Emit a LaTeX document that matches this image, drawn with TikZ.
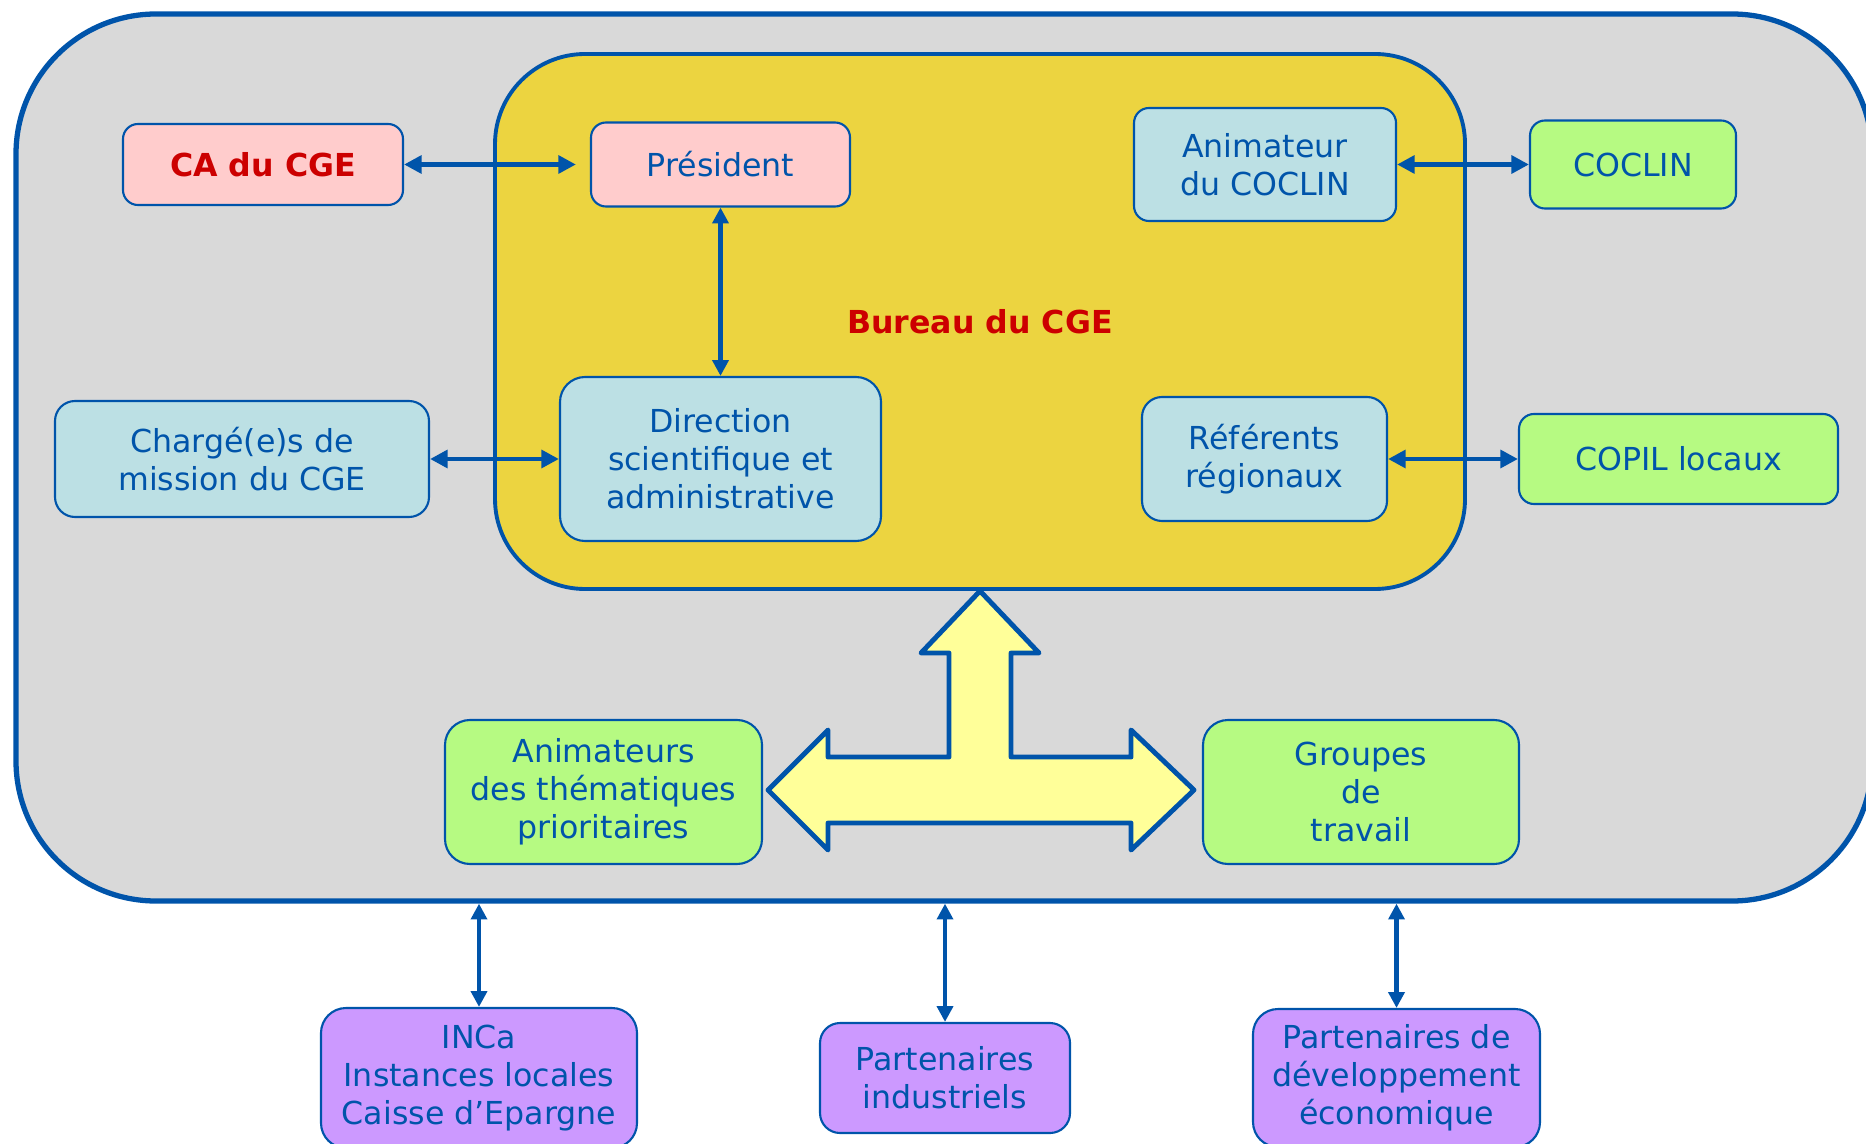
\documentclass[tikz,border=0pt]{standalone}
\usepackage{fontspec}
\setmainfont{DejaVu Sans}
\usetikzlibrary{arrows.meta}

\definecolor{cgeblue}{RGB}{0,84,170}
\definecolor{cgered}{RGB}{204,0,0}
\definecolor{cgegris}{RGB}{217,217,217}
\definecolor{cgejaune}{RGB}{236,212,64}
\definecolor{cgerose}{RGB}{255,204,204}
\definecolor{cgeciel}{RGB}{188,224,228}
\definecolor{cgevert}{RGB}{182,250,130}
\definecolor{cgemauve}{RGB}{204,153,255}
\definecolor{cgefleche}{RGB}{255,255,153}

\begin{document}
\begin{tikzpicture}
    % -----------------------------
    % Parameters (1 unit = 100 px of the page)
    % -----------------------------
    \def\lw{0.6pt}          % border of the small boxes
    \def\rowA{-1.645}       % first row (CA, Président, COCLIN)
    \def\rowB{-4.59}        % second row (Chargé(e)s, Direction, COPIL)
    \def\rowC{-7.92}        % third row (animateurs, groupes)
    \def\rowD{-10.78}       % partners below the frame
    \newcommand{\boxfont}{\fontsize{9pt}{10.8pt}\selectfont}

    % -----------------------------
    % Styles
    % -----------------------------
    \tikzset{
      boite/.style={draw=cgeblue, line width=\lw, rounded corners=0.15cm,
                    text=cgeblue, font=\boxfont, align=center, inner sep=0pt},
      rose/.style={boite, fill=cgerose},
      ciel/.style={boite, fill=cgeciel},
      vert/.style={boite, fill=cgevert, rounded corners=0.25cm},
      mauve/.style={boite, fill=cgemauve, rounded corners=0.25cm},
      lien/.style={draw=cgeblue, line width=1.4pt,
                   {Triangle[length=5pt,width=5pt]}-{Triangle[length=5pt,width=5pt]}},
      lienv/.style={draw=cgeblue, line width=1.2pt,
                    {Triangle[length=4.5pt,width=4.5pt]}-{Triangle[length=4.5pt,width=4.5pt]}},
    }

    \clip (0,0) rectangle (18.66,-11.44);

    % -----------------------------
    % Frame and bureau
    % -----------------------------
    \node[draw=cgeblue, fill=cgegris, line width=1.5pt, rounded corners=1.4cm,
          minimum width=18.56cm, minimum height=8.87cm, inner sep=0pt]
          (cge) at (9.44,-4.575) {};
    \node[draw=cgeblue, fill=cgejaune, line width=1.1pt, rounded corners=0.9cm,
          minimum width=9.70cm, minimum height=5.35cm, inner sep=0pt,
          text=cgered, font=\boxfont\bfseries]
          (bureau) at (9.80,-3.215) {Bureau du CGE};

    % -----------------------------
    % Boxes
    % -----------------------------
    \node[rose, minimum width=2.80cm, minimum height=0.81cm, text=cgered, font=\boxfont\bfseries]
          (ca) at (2.63,\rowA) {CA du CGE};
    \node[rose, minimum width=2.59cm, minimum height=0.84cm] (pres) at (7.205,\rowA) {Président};
    \node[ciel, minimum width=2.62cm, minimum height=1.13cm] (animcoclin) at (12.65,\rowA) {Animateur\\du COCLIN};
    \node[vert, rounded corners=0.15cm, minimum width=2.06cm, minimum height=0.88cm] (coclin) at (16.33,\rowA) {COCLIN};

    \node[ciel, rounded corners=0.2cm, minimum width=3.74cm, minimum height=1.16cm] (charge) at (2.42,\rowB) {Chargé(e)s de\\mission du CGE};
    \node[ciel, rounded corners=0.25cm, minimum width=3.21cm, minimum height=1.64cm] (direction) at (7.205,\rowB) {Direction\\scientifique et\\administrative};
    \node[ciel, rounded corners=0.2cm, minimum width=2.45cm, minimum height=1.24cm] (referents) at (12.645,\rowB) {Référents\\régionaux};
    \node[vert, rounded corners=0.15cm, minimum width=3.19cm, minimum height=0.90cm] (copil) at (16.785,\rowB) {COPIL locaux};

    \node[vert, minimum width=3.17cm, minimum height=1.44cm] (thematiques) at (6.035,\rowC) {Animateurs\\des thématiques\\prioritaires};
    \node[vert, minimum width=3.16cm, minimum height=1.44cm] (groupes) at (13.61,\rowC) {Groupes\\de\\travail};

    \node[mauve, minimum width=3.16cm, minimum height=1.40cm] (inca) at (4.79,\rowD) {INCa\\Instances locales\\Caisse d’Epargne};
    \node[mauve, rounded corners=0.2cm, minimum width=2.50cm, minimum height=1.10cm] (industriels) at (9.45,\rowD) {Partenaires\\industriels};
    \node[mauve, minimum width=2.87cm, minimum height=1.38cm] (developpement) at (13.965,\rowD) {Partenaires de\\développement\\économique};

    % -----------------------------
    % Big yellow three-way arrow
    % -----------------------------
    \begin{scope}[shift={(9.80,-7.90)}]
      \draw[draw=cgeblue, fill=cgefleche, line width=1.4pt, line join=round]
        (-2.12,0) -- (-1.52,0.60) -- (-1.52,0.33) -- (-0.31,0.33) -- (-0.31,1.37)
        -- (-0.59,1.37) -- (0,1.99) -- (0.59,1.37) -- (0.31,1.37) -- (0.31,0.33)
        -- (1.51,0.33) -- (1.51,0.60) -- (2.14,0) -- (1.51,-0.60) -- (1.51,-0.33)
        -- (-1.52,-0.33) -- (-1.52,-0.60) -- cycle;
    \end{scope}

    % -----------------------------
    % Connectors
    % -----------------------------
    \draw[lien, shorten >=4pt] (ca) -- (pres);
    \draw[lien] (animcoclin) -- (coclin);
    \draw[lien] (charge) -- (direction);
    \draw[lien] (referents) -- (copil);
    \draw[lienv] (pres) -- (direction);
    \draw[lienv] (inca.north |- cge.south) -- (inca.north);
    \draw[lienv] (industriels.north |- cge.south) -- (industriels.north);
    \draw[lienv] (developpement.north |- cge.south) -- (developpement.north);

\end{tikzpicture}
\end{document}
